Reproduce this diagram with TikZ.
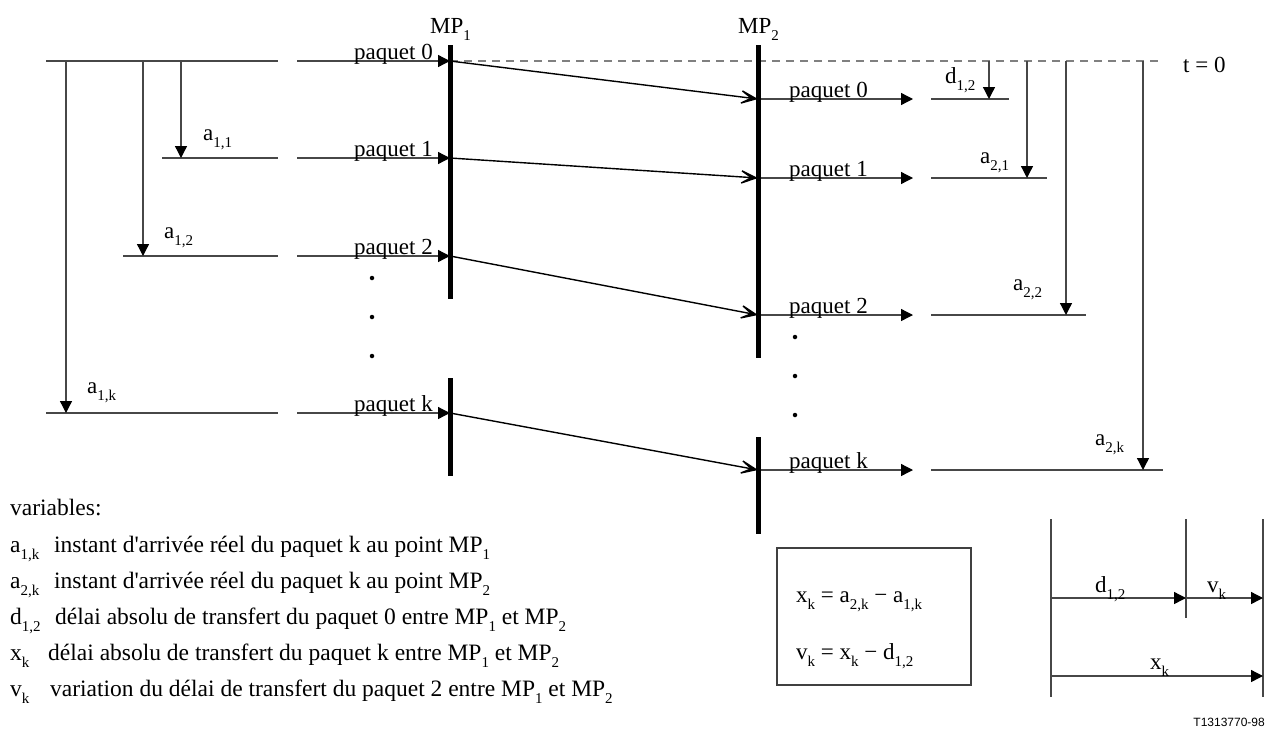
\documentclass[tikz,border=0pt]{standalone}
\usepackage{fontspec}
\setmainfont{Liberation Serif}[Ligatures=TeXOff]
\newfontfamily\helv{Liberation Sans}
\usetikzlibrary{arrows.meta}
\newcommand\lo[1]{\raisebox{-7pt}{\fontsize{15}{15}\selectfont #1}}
\tikzset{
  tl/.style={line width=1.3pt,draw=black!72},
  tarr/.style={tl,-{Triangle[length=12pt,width=12pt,color=black]}},
  mpline/.style={line width=5pt,draw=black},
  slant/.style={line width=1.4pt,draw=black,-{Stealth[length=24pt,width=20pt,inset=16pt]}},
  dashln/.style={line width=1.3pt,draw=black!50,dash pattern=on 8pt off 6pt},
  lab/.style={inner sep=0pt,font=\fontsize{23}{23}\selectfont},
  leg/.style={inner sep=0pt,font=\fontsize{23.5}{23.5}\selectfont,anchor=base west},
  dotn/.style={circle,fill=black,inner sep=0pt,minimum size=4.5pt},
}
\begin{document}
\begin{tikzpicture}[x=1pt,y=-1pt]
\useasboundingbox (0,0) rectangle (1265,731);

% ---------- MP1 side ----------
\coordinate (l0s) at (46,61);   \coordinate (l0e) at (278,61);
\coordinate (l1s) at (162,158); \coordinate (l1e) at (278,158);
\coordinate (l2s) at (123,256); \coordinate (l2e) at (278,256);
\coordinate (lks) at (46,413);  \coordinate (lke) at (278,413);
\draw[tl] (l0s) -- (l0e);
\draw[tl] (l1s) -- (l1e);
\draw[tl] (l2s) -- (l2e);
\draw[tl] (lks) -- (lke);

\coordinate (v1t) at (181,61); \coordinate (v1b) at (181,158);
\coordinate (v2t) at (143,61); \coordinate (v2b) at (143,256);
\coordinate (vkt) at (66,61);  \coordinate (vkb) at (66,413);
\draw[tarr] (v1t) -- (v1b);
\draw[tarr] (v2t) -- (v2b);
\draw[tarr] (vkt) -- (vkb);
\node[lab,anchor=base west] (a11) at (203,140) {a\lo{1,1}};
\node[lab,anchor=base west] (a12) at (164,238) {a\lo{1,2}};
\node[lab,anchor=base west] (a1k) at (87,393) {a\lo{1,k}};

\foreach \n/\y in {0/61,1/158,2/256,k/413}{
  \coordinate (p\n s) at (297,\y);
  \coordinate (A\n) at (450,\y);
  \draw[tarr] (p\n s) -- (A\n);
  \node[lab,anchor=base east] (pl\n) at (433,\y-2) {paquet \n};
}

% dots under MP1
\node[dotn] (da1) at (372,278) {};
\node[dotn] (da2) at (372,317) {};
\node[dotn] (da3) at (372,356) {};

% ---------- MP2 side ----------
\foreach \n/\y in {0/99,1/178,2/315,k/470}{
  \coordinate (B\n) at (758,\y);
  \coordinate (q\n e) at (913,\y);
  \draw[tarr] (B\n) -- (q\n e);
  \node[lab,anchor=base west] (ql\n) at (789,\y-2) {paquet \n};
}
\coordinate (r0s) at (931,99);  \coordinate (r0e) at (1009,99);
\coordinate (r1s) at (931,178); \coordinate (r1e) at (1047,178);
\coordinate (r2s) at (931,315); \coordinate (r2e) at (1086,315);
\coordinate (rks) at (931,470); \coordinate (rke) at (1163,470);
\draw[tl] (r0s) -- (r0e);
\draw[tl] (r1s) -- (r1e);
\draw[tl] (r2s) -- (r2e);
\draw[tl] (rks) -- (rke);

% dashed t = 0 line
\coordinate (dend) at (1163,61);
\draw[dashln] (A0) -- (dend);
\node[lab,anchor=base west] (t0) at (1183,72) {t = 0};

\coordinate (w0t) at (989,61);  \coordinate (w0b) at (989,99);
\coordinate (w1t) at (1027,61); \coordinate (w1b) at (1027,178);
\coordinate (w2t) at (1066,61); \coordinate (w2b) at (1066,315);
\coordinate (wkt) at (1143,61); \coordinate (wkb) at (1143,470);
\draw[tarr] (w0t) -- (w0b);
\draw[tarr] (w1t) -- (w1b);
\draw[tarr] (w2t) -- (w2b);
\draw[tarr] (wkt) -- (wkb);
\node[lab,anchor=base west] (d12) at (945,83) {d\lo{1,2}};
\node[lab,anchor=base west] (a21) at (980,163) {a\lo{2,1}};
\node[lab,anchor=base west] (a22) at (1013,290) {a\lo{2,2}};
\node[lab,anchor=base west] (a2k) at (1095,445) {a\lo{2,k}};

% dots under MP2
\node[dotn] (db1) at (795,337) {};
\node[dotn] (db2) at (795,376) {};
\node[dotn] (db3) at (795,415) {};

% slanted transfer arrows
\draw[slant] (A0) -- (B0);
\draw[slant] (A1) -- (B1);
\draw[slant] (A2) -- (B2);
\draw[slant] (Ak) -- (Bk);

% ---------- measurement points ----------
\coordinate (mp1a) at (450,45);  \coordinate (mp1b) at (450,299);
\coordinate (mp1c) at (450,378); \coordinate (mp1d) at (450,476);
\coordinate (mp2a) at (758,45);  \coordinate (mp2b) at (758,358);
\coordinate (mp2c) at (758,437); \coordinate (mp2d) at (758,534);
\draw[mpline] (mp1a) -- (mp1b);
\draw[mpline] (mp1c) -- (mp1d);
\draw[mpline] (mp2a) -- (mp2b);
\draw[mpline] (mp2c) -- (mp2d);
\node[lab,anchor=base west] (mp1) at (430,33) {MP\lo{1}};
\node[lab,anchor=base west] (mp2) at (738,33) {MP\lo{2}};

% ---------- legend ----------
\node[leg] (var) at (10,515) {variables:};
\node[leg] (s1) at (10,552) {a\lo{1,k}};
\node[leg] (t1) at (54,552) {instant d'arrivée réel du paquet k au point MP\lo{1}};
\node[leg] (s2) at (10,588) {a\lo{2,k}};
\node[leg] (t2) at (54,588) {instant d'arrivée réel du paquet k au point MP\lo{2}};
\node[leg] (s3) at (10,624) {d\lo{1,2}};
\node[leg] (t3) at (55,624) {délai absolu de transfert du paquet 0 entre MP\lo{1} et MP\lo{2}};
\node[leg] (s4) at (10,660) {x\lo{k}};
\node[leg] (t4) at (48,660) {délai absolu de transfert du paquet k entre MP\lo{1} et MP\lo{2}};
\node[leg] (s5) at (10,696) {v\lo{k}};
\node[leg] (t5) at (50,696) {variation du délai de transfert du paquet 2 entre MP\lo{1} et MP\lo{2}};

% ---------- formula box ----------
\node[draw=black!75,line width=1.3pt,minimum width=194pt,minimum height=137pt,inner sep=0pt] (box) at (874,616.5) {};
\node[lab,anchor=base west] (f1) at (796,602) {x\lo{k} = a\lo{2,k} − a\lo{1,k}};
\node[lab,anchor=base west] (f2) at (796,659) {v\lo{k} = x\lo{k} − d\lo{1,2}};

% ---------- small scale diagram ----------
\coordinate (g1t) at (1051,519); \coordinate (g1b) at (1051,697);
\coordinate (g2t) at (1186,519); \coordinate (g2b) at (1186,618);
\coordinate (g3t) at (1263,519); \coordinate (g3b) at (1263,697);
\draw[tl] (g1t) -- (g1b);
\draw[tl] (g2t) -- (g2b);
\draw[tl] (g3t) -- (g3b);
\coordinate (h1) at (1051,598); \coordinate (h2) at (1186,598); \coordinate (h3) at (1263,598);
\coordinate (k1) at (1051,676); \coordinate (k3) at (1263,676);
\draw[tarr] (h1) -- (h2);
\draw[tarr] (h2) -- (h3);
\draw[tarr] (k1) -- (k3);
\node[lab,anchor=base west] (ld) at (1095,592) {d\lo{1,2}};
\node[lab,anchor=base west] (lv) at (1207,592) {v\lo{k}};
\node[lab,anchor=base west] (lx) at (1150,669) {x\lo{k}};

\node[inner sep=0pt,anchor=base east,font=\helv\fontsize{12}{12}\selectfont] (ref) at (1265,726) {T1313770-98};
\end{tikzpicture}
\end{document}
